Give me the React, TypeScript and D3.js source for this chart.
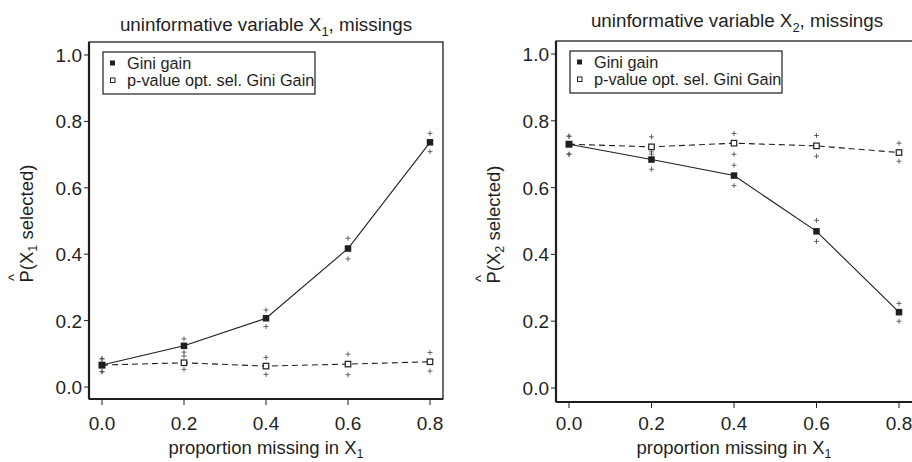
import * as d3 from 'd3'

// --- DATA ---
const proportions = [0, 0.2, 0.4, 0.6, 0.8]
const xTicks = [0, 0.2, 0.4, 0.6, 0.8]
const yTicks = [0, 0.2, 0.4, 0.6, 0.8, 1.0]
const legendLabels = ['Gini gain', 'p-value opt. sel. Gini Gain']

// panel 1: uninformative X1
const giniX1 = [0.066, 0.124, 0.207, 0.417, 0.737]
const giniX1Upper = [0.085, 0.145, 0.232, 0.448, 0.764]
const giniX1Lower = [0.046, 0.105, 0.182, 0.386, 0.709]
const pvalX1 = [0.066, 0.073, 0.063, 0.069, 0.076]
const pvalX1Upper = [0.085, 0.093, 0.089, 0.099, 0.104]
const pvalX1Lower = [0.046, 0.053, 0.038, 0.037, 0.048]

// panel 2: uninformative X2
const giniX2 = [0.73, 0.684, 0.636, 0.469, 0.227]
const giniX2Upper = [0.754, 0.707, 0.667, 0.502, 0.253]
const giniX2Lower = [0.7, 0.655, 0.606, 0.439, 0.2]
const pvalX2 = [0.73, 0.722, 0.733, 0.725, 0.705]
const pvalX2Upper = [0.754, 0.752, 0.762, 0.756, 0.733]
const pvalX2Lower = [0.7, 0.7, 0.7, 0.694, 0.679]

type Series = { values: number[]; upper: number[]; lower: number[] }

type PanelProps = {
  variable: string
  gini: Series
  pval: Series
  box: { left: number; right: number; top: number; bottom: number }
  xRange: [number, number]
  yRange: [number, number]
  titleX: number
  titleY: number
}

const FONT = '"Liberation Sans", Arial, Helvetica, sans-serif'
const INK = '#1f1f1f'

function Panel({ variable, gini, pval, box, xRange, yRange, titleX, titleY }: PanelProps) {
  const x = d3.scaleLinear().domain([0, 0.8]).range(xRange)
  const y = d3.scaleLinear().domain([0, 1]).range(yRange)

  const line = d3
    .line<number>()
    .x((_, i) => x(proportions[i]))
    .y((v) => y(v))

  const cx = (xRange[0] + xRange[1]) / 2
  const sq = 6.5

  const plus = (px: number, py: number, key: string) => (
    <path
      key={key}
      d={`M${px - 2.5},${py}H${px + 2.5}M${px},${py - 2.5}V${py + 2.5}`}
      stroke="#444"
      strokeWidth={0.8}
    />
  )

  const yMid = (box.top + box.bottom) / 2

  return (
    <g fontFamily={FONT} fill={INK}>
      {/* title */}
      <text x={titleX} y={titleY} fontSize={18.8} textAnchor="middle">
        uninformative variable X
        <tspan fontSize={13} dy={5}>
          {variable}
        </tspan>
        <tspan dy={-5}>, missings</tspan>
      </text>

      {/* box */}
      <rect
        x={box.left}
        y={box.top}
        width={box.right - box.left}
        height={box.bottom - box.top}
        fill="none"
        stroke={INK}
        strokeWidth={1.3}
      />
      <line x1={box.left} x2={box.left} y1={box.top} y2={box.bottom} stroke={INK} strokeWidth={2.2} />
      <line x1={box.left} x2={box.right} y1={box.bottom} y2={box.bottom} stroke={INK} strokeWidth={2.2} />

      {/* y axis */}
      {yTicks.map((t) => (
        <g key={`y${t}`}>
          <line x1={box.left - 5} x2={box.left} y1={y(t)} y2={y(t)} stroke={INK} strokeWidth={1} />
          <text x={box.left - 7} y={y(t) + 7} fontSize={19} textAnchor="end">
            {d3.format('.1f')(t)}
          </text>
        </g>
      ))}

      {/* x axis */}
      {xTicks.map((t) => (
        <g key={`x${t}`}>
          <line x1={x(t)} x2={x(t)} y1={box.bottom} y2={box.bottom + 6} stroke={INK} strokeWidth={1} />
          <text x={x(t)} y={430} fontSize={19} textAnchor="middle">
            {d3.format('.1f')(t)}
          </text>
        </g>
      ))}

      {/* x title */}
      <text x={cx} y={454} fontSize={18.5} textAnchor="middle">
        proportion missing in X<tspan fontSize={12.5} dy={4}>1</tspan>
      </text>

      {/* y title */}
      <g transform={`translate(${box.left - 56},${yMid + 62}) rotate(-90)`}>
        <text x={0} y={0} fontSize={18.5}>
          P(X<tspan fontSize={12.5} dy={4}>{variable}</tspan>
          <tspan dy={-4}> selected)</tspan>
        </text>
        <text x={1.5} y={-14} fontSize={15}>
          ^
        </text>
      </g>

      {/* legend */}
      <rect
        x={box.left + 14}
        y={box.top + 10}
        width={212}
        height={42}
        fill="#fff"
        stroke={INK}
        strokeWidth={1.2}
      />
      <rect x={box.left + 21} y={box.top + 18.5} width={5} height={5} fill={INK} />
      <rect x={box.left + 21.5} y={box.top + 36} width={4.5} height={4.5} fill="#fff" stroke={INK} strokeWidth={1} />
      <text x={box.left + 38} y={box.top + 27} fontSize={16.3}>
        {legendLabels[0]}
      </text>
      <text x={box.left + 38} y={box.top + 44} fontSize={16.3}>
        {legendLabels[1]}
      </text>

      {/* confidence pluses */}
      {proportions.map((p, i) => (
        <g key={`cp${i}`}>
          {plus(x(p), y(gini.upper[i]), 'gu')}
          {plus(x(p), y(gini.lower[i]), 'gl')}
          {plus(x(p), y(pval.upper[i]), 'pu')}
          {plus(x(p), y(pval.lower[i]), 'pl')}
        </g>
      ))}

      {/* p-value series (dashed, open squares) */}
      <path d={line(pval.values) ?? ''} fill="none" stroke={INK} strokeWidth={1.1} strokeDasharray="6,4" />
      {pval.values.map((v, i) => (
        <rect
          key={`pv${i}`}
          x={x(proportions[i]) - (sq - 1) / 2}
          y={y(v) - (sq - 1) / 2}
          width={sq - 1}
          height={sq - 1}
          fill="#fff"
          stroke={INK}
          strokeWidth={1.2}
        />
      ))}

      {/* gini series (solid, filled squares) */}
      <path d={line(gini.values) ?? ''} fill="none" stroke={INK} strokeWidth={1.1} />
      {gini.values.map((v, i) => (
        <rect
          key={`gv${i}`}
          x={x(proportions[i]) - sq / 2}
          y={y(v) - sq / 2}
          width={sq}
          height={sq}
          fill={INK}
        />
      ))}
    </g>
  )
}

export default function App() {
  return (
    <svg
      width={912}
      height={462}
      style={{ position: 'absolute', left: 0, top: 0, background: '#fff' }}
    >
      <rect width={912} height={462} fill="#fff" />
      <Panel
        variable="1"
        gini={{ values: giniX1, upper: giniX1Upper, lower: giniX1Lower }}
        pval={{ values: pvalX1, upper: pvalX1Upper, lower: pvalX1Lower }}
        box={{ left: 89, right: 443, top: 42, bottom: 399 }}
        xRange={[102, 430]}
        yRange={[387, 55]}
        titleX={266}
        titleY={30.5}
      />
      <Panel
        variable="2"
        gini={{ values: giniX2, upper: giniX2Upper, lower: giniX2Lower }}
        pval={{ values: pvalX2, upper: pvalX2Upper, lower: pvalX2Lower }}
        box={{ left: 556, right: 913, top: 41, bottom: 402 }}
        xRange={[569, 899]}
        yRange={[388, 54]}
        titleX={737}
        titleY={27}
      />
    </svg>
  )
}
